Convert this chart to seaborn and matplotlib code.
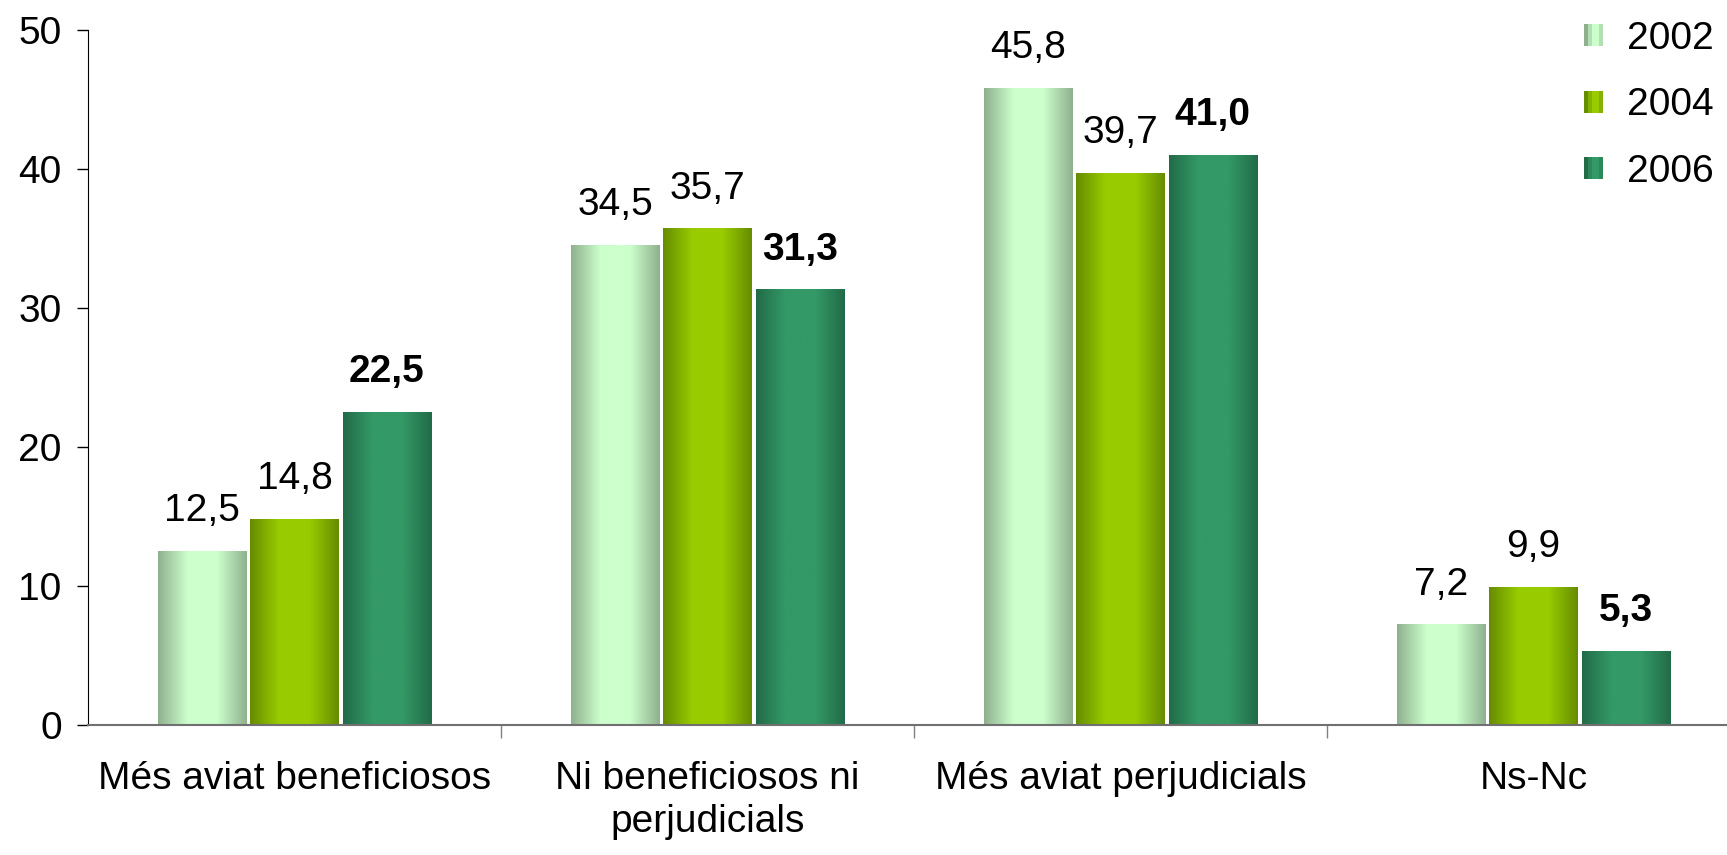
import numpy as np
import pandas as pd
import matplotlib
matplotlib.use("Agg")
import matplotlib.pyplot as plt
import seaborn as sns
from matplotlib.colors import LinearSegmentedColormap
from matplotlib.patches import Patch
from matplotlib.legend_handler import HandlerTuple

categories = ["Més aviat beneficiosos", "Ni beneficiosos ni\nperjudicials",
              "Més aviat perjudicials", "Ns-Nc"]
years = ["2002", "2004", "2006"]
v2002 = [12.5, 34.5, 45.8, 7.2]
v2004 = [14.8, 35.7, 39.7, 9.9]
v2006 = [22.5, 31.3, 41.0, 5.3]

# edge / centre colours of the cylinder-like gradient
edge_cols = ["#8FB08F", "#668C00", "#226B48"]
mid_cols = ["#CCFFCC", "#99CC00", "#339966"]

df = pd.DataFrame({
    "cat": categories * 3,
    "year": [y for y in years for _ in categories],
    "val": v2002 + v2004 + v2006,
})

sns.set_style("white")
plt.rcParams["font.family"] = ["Liberation Sans", "DejaVu Sans"]
plt.rcParams["text.color"] = "black"
plt.rcParams["xtick.color"] = "black"
plt.rcParams["ytick.color"] = "black"

fig = plt.figure(figsize=(17.27, 8.55), dpi=100)
ax = fig.add_axes([0.051, 0.152, 0.9566, 0.813])

sns.barplot(data=df, x="cat", y="val", hue="year", palette=mid_cols,
            width=0.67, gap=0.04, legend=False, ax=ax, edgecolor="none")

grad = np.linspace(0, 1, 256)[None, :]
cmaps = []
for i, cont in enumerate(ax.containers):
    cmap = LinearSegmentedColormap.from_list(
        f"g{i}", [edge_cols[i], mid_cols[i], mid_cols[i], edge_cols[i]])
    cmaps.append(cmap)
    for bar in cont:
        x0, y0 = bar.get_x(), bar.get_y()
        x1, y1 = x0 + bar.get_width(), y0 + bar.get_height()
        ax.imshow(grad, cmap=cmap, extent=[x0, x1, y0, y1], aspect="auto",
                  zorder=bar.get_zorder() + 0.1, interpolation="bilinear")
    labs = [f"{v:.1f}".replace(".", ",") for v in cont.datavalues]
    bold = i == 2
    ax.bar_label(cont, labels=labs, padding=16, fontsize=28, color="black",
                 fontweight="bold" if bold else "normal")

ax.set_xlim(-0.5, 3.5)
ax.set_ylim(0, 50)
ax.set_yticks([0, 10, 20, 30, 40, 50])
ax.set_xticks(range(4))
ax.set_xticklabels(categories, linespacing=1.25)
ax.set_xticks([0.5, 1.5, 2.5], minor=True)
ax.tick_params(axis="x", which="major", length=0, pad=26, labelsize=28)
ax.tick_params(axis="x", which="minor", length=9, width=1, color="#808080",
               direction="out", bottom=True)
ax.tick_params(axis="y", length=8, width=1, direction="out", left=True,
               pad=11, labelsize=28)
ax.set_xlabel("")
ax.set_ylabel("")

for s in ["top", "right"]:
    ax.spines[s].set_visible(False)
ax.spines["left"].set_color("black")
ax.spines["bottom"].set_color("#707070")
ax.spines["bottom"].set_linewidth(1.5)

# striped legend keys imitating the gradient
handles = []
for cm in cmaps:
    handles.append(tuple(Patch(facecolor=cm(t), edgecolor="none")
                         for t in [0.0, 0.2, 0.4, 0.6, 0.8]))
ax.legend(handles, years, loc="upper right", bbox_to_anchor=(1.005, 1.063),
          frameon=False, fontsize=28, handlelength=0.5, handleheight=0.5,
          labelspacing=0.78, handletextpad=0.6,
          handler_map={tuple: HandlerTuple(ndivide=None, pad=0)})

fig.savefig("out.png", dpi=100)
